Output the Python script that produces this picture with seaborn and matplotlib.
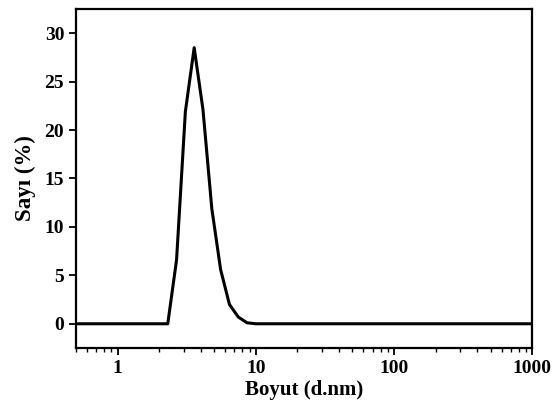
import matplotlib
matplotlib.use("Agg")
import matplotlib.pyplot as plt
import seaborn as sns
import pandas as pd
from matplotlib.ticker import LogLocator, FixedLocator, NullFormatter

# Size bins (d.nm) and number distribution (%)
size_nm = [0.4632, 0.5365, 0.6213, 0.7195, 0.8332, 0.9649, 1.117, 1.294, 1.499,
           1.736, 2.010, 2.305, 2.669, 3.091, 3.580, 4.145, 4.801, 5.560, 6.439,
           7.456, 8.635, 10.00, 11.58, 13.54, 15.69, 18.17, 21.04, 24.36, 28.21,
           32.67, 37.84, 43.82, 50.75, 58.77, 68.06, 78.82, 91.28, 105.7, 122.4,
           141.8, 164.2, 190.1, 220.2, 255.0, 295.3, 342.0, 396.1, 458.7, 531.2,
           615.1, 712.4, 825.0, 955.4, 1106.0]
number_pct = [0, 0, 0, 0, 0, 0, 0, 0, 0,
              0, 0, 0, 6.6, 21.9, 28.5, 22.1, 11.9, 5.6, 2.0,
              0.7, 0.1, 0, 0, 0, 0, 0, 0, 0, 0,
              0, 0, 0, 0, 0, 0, 0, 0, 0, 0,
              0, 0, 0, 0, 0, 0, 0, 0, 0, 0,
              0, 0, 0, 0, 0]

x_ticks = [1, 10, 100, 1000]
x_tick_labels = ["1", "10", "100", "1000"]
y_ticks = [0, 5, 10, 15, 20, 25, 30]

df = pd.DataFrame({"Boyut": size_nm, "Sayi": number_pct})

sns.set_style("ticks")
plt.rcParams["font.family"] = ["Liberation Serif", "DejaVu Serif"]
plt.rcParams["font.weight"] = "bold"
for key in ["text.color", "axes.labelcolor", "axes.edgecolor",
            "xtick.color", "ytick.color"]:
    plt.rcParams[key] = "black"

fig = plt.figure(figsize=(5.55, 4.07), dpi=100)
ax = fig.add_axes([0.137, 0.145, 0.822, 0.833])

sns.lineplot(data=df, x="Boyut", y="Sayi", ax=ax, color="black", linewidth=2.2)

ax.set_xscale("log")
ax.set_xlim(0.5, 1000)
ax.set_ylim(-2.5, 32.5)

ax.xaxis.set_major_locator(FixedLocator(x_ticks))
ax.set_xticklabels(x_tick_labels)
ax.xaxis.set_minor_locator(LogLocator(base=10, subs=[2, 3, 4, 5, 6, 7, 8, 9]))
ax.xaxis.set_minor_formatter(NullFormatter())
ax.set_yticks(y_ticks)

for s in ax.spines.values():
    s.set_linewidth(1.6)
    s.set_visible(True)
    s.set_color("black")

ax.tick_params(axis="both", which="major", direction="out", length=5, width=1.3,
               labelsize=14, colors="black")
ax.tick_params(axis="x", which="minor", direction="out", length=3, width=1.0,
               colors="black")
for lab in ax.get_xticklabels() + ax.get_yticklabels():
    lab.set_fontweight("bold")

ax.set_xlabel("Boyut (d.nm)", fontsize=15, fontweight="bold", labelpad=2)
ax.set_ylabel("Sayı (%)", fontsize=16.5, fontweight="bold", labelpad=6)

fig.savefig("out.png", dpi=100)
